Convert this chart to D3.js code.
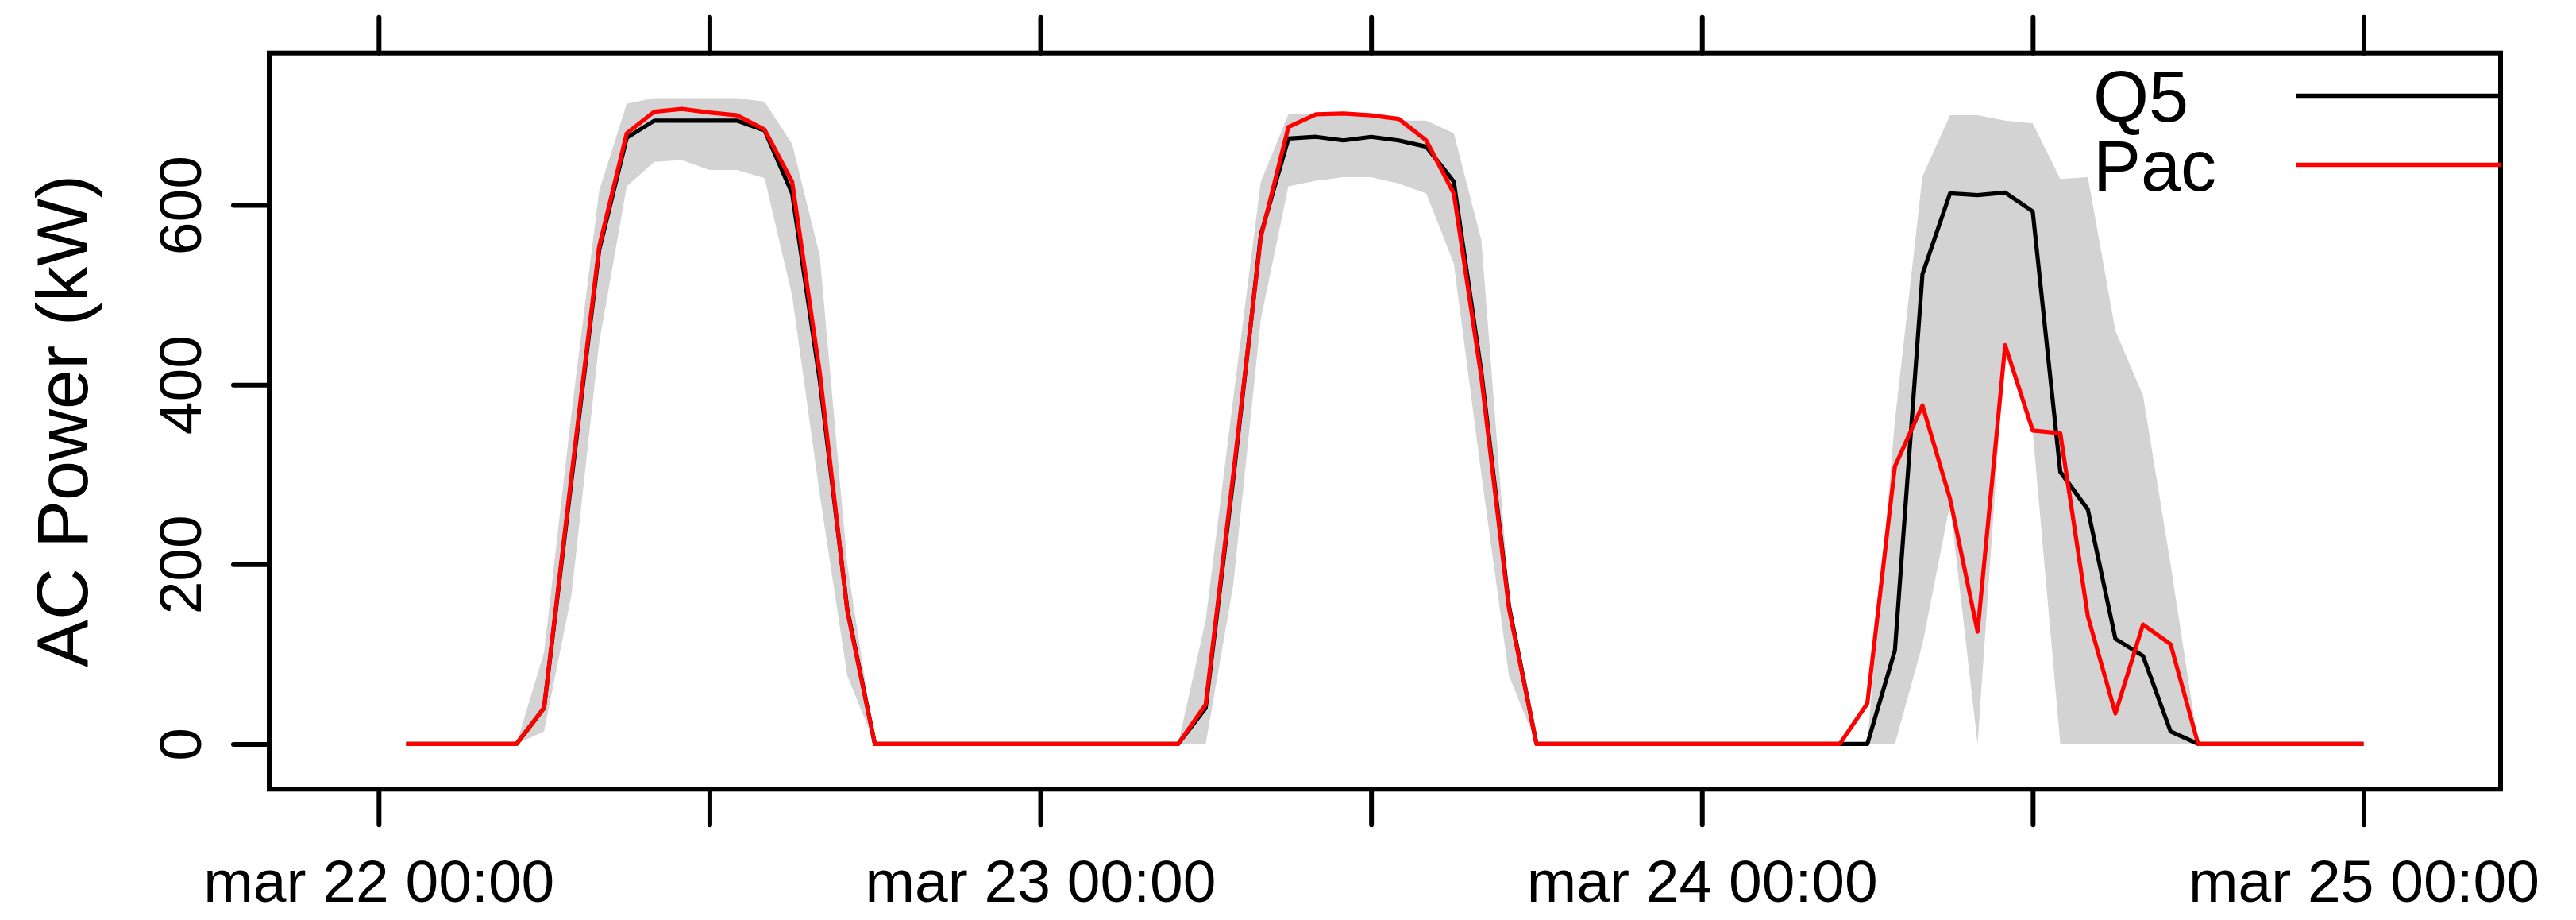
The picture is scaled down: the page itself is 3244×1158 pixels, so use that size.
<!DOCTYPE html>
<html>
<head>
<meta charset="utf-8">
<script src="https://cdn.jsdelivr.net/npm/d3@7"></script>
<style>
body { margin: 0; background: #fff; }
text { font-family: "Liberation Sans", Arial, Helvetica, sans-serif; fill: #000; }
</style>
</head>
<body>
<div id="chart"></div>
<script>
const width = 3244, height = 1158;
const margin = {top: 66.7, right: 95, bottom: 164.7, left: 339};

// hourly samples, mar 22 01:00 -> mar 25 00:00
const startTime = Date.UTC(2016, 2, 22, 1);
const endTime = Date.UTC(2016, 2, 25, 1);

const pac = [
	0, 0, 0, 0, 0, 40, 300, 554, 680, 704, 707, 703, 700, 684, 626, 414, 148, 0,
	0, 0, 0, 0, 0, 0, 0, 0, 0, 0, 0, 44, 300, 564, 687, 701, 702, 700, 696, 672,
	613, 408, 151, 0, 0, 0, 0, 0, 0, 0, 0, 0, 0, 0, 0, 45, 309, 377, 273, 125,
	444, 349, 346, 142, 34, 133, 111, 0, 0, 0, 0, 0, 0, 0
];
const q5 = [
	0, 0, 0, 0, 0, 40, 295, 550, 675, 694, 694, 694, 694, 683, 613, 405, 150, 0,
	0, 0, 0, 0, 0, 0, 0, 0, 0, 0, 0, 40, 295, 567, 674, 676, 672, 676, 672, 665,
	626, 414, 154, 0, 0, 0, 0, 0, 0, 0, 0, 0, 0, 0, 0, 0, 104, 523, 613, 611,
	614, 593, 303, 261, 117, 98, 14, 0, 0, 0, 0, 0, 0, 0
];
const bandUpper = [
	0, 0, 0, 0, 0, 102, 370, 616, 713, 719, 719, 719, 719, 715, 668, 544, 200, 0,
	0, 0, 0, 0, 0, 0, 0, 0, 0, 0, 0, 138, 385, 626, 701, 702, 701, 698, 694, 694,
	680, 561, 165, 0, 0, 0, 0, 0, 0, 0, 0, 0, 0, 0, 0, 0, 360, 632, 700, 700,
	694, 691, 629, 631, 460, 388, 200, 0, 0, 0, 0, 0, 0, 0
];
const bandLower = [
	0, 0, 0, 0, 0, 14, 167, 447, 621, 648, 650, 639, 639, 630, 499, 278, 76, 0,
	0, 0, 0, 0, 0, 0, 0, 0, 0, 0, 0, 0, 177, 473, 621, 627, 631, 631, 624, 613,
	535, 300, 76, 0, 0, 0, 0, 0, 0, 0, 0, 0, 0, 0, 0, 0, 0, 111, 267, 0,
	444, 348, 0, 0, 0, 0, 0, 0, 0, 0, 0, 0, 0, 0
];

const yTicks = [0, 200, 400, 600];
const xTickLabels = ["mar 22 00:00", "mar 23 00:00", "mar 24 00:00", "mar 25 00:00"];
const seriesNames = ["Q5", "Pac"];
const seriesColors = ["#000000", "#ff0000"];

const times = d3.utcHour.range(startTime, endTime);
const rows = times.map((t, i) => ({t: t, pac: pac[i], q5: q5[i], lo: bandLower[i], hi: bandUpper[i]}));

const svg = d3.select("#chart")
	.append("svg")
	.attr("width", width)
	.attr("height", height);

// lattice-like 7% padding on both scales
const tExt = d3.extent(times);
const tPad = (tExt[1] - tExt[0]) * 0.07;
const x = d3.scaleUtc()
	.domain([new Date(+tExt[0] - tPad), new Date(+tExt[1] + tPad)])
	.range([margin.left, width - margin.right]);

const yMax = d3.max([d3.max(pac), d3.max(q5), d3.max(bandUpper)]);
const yPad = yMax * 0.07;
const y = d3.scaleLinear()
	.domain([-yPad, yMax + yPad])
	.range([height - margin.bottom, margin.top]);

// band
const area = d3.area()
	.x(d => x(d.t))
	.y0(d => y(d.lo))
	.y1(d => y(d.hi));

svg.append("path")
	.datum(rows)
	.attr("d", area)
	.attr("fill", "#d3d3d3");

// lines
const lineQ5 = d3.line().x(d => x(d.t)).y(d => y(d.q5));
const linePac = d3.line().x(d => x(d.t)).y(d => y(d.pac));

svg.append("path")
	.datum(rows)
	.attr("d", lineQ5)
	.attr("fill", "none")
	.attr("stroke", seriesColors[0])
	.attr("stroke-width", 5.2)
	.attr("stroke-linejoin", "round");

svg.append("path")
	.datum(rows)
	.attr("d", linePac)
	.attr("fill", "none")
	.attr("stroke", seriesColors[1])
	.attr("stroke-width", 5.2)
	.attr("stroke-linejoin", "round");

// axes
const xTicks = d3.utcHour.every(12).range(Date.UTC(2016, 2, 22, 0), Date.UTC(2016, 2, 25, 1));
let dayIdx = 0;
const fmtX = d => d.getUTCHours() === 0 ? xTickLabels[dayIdx++] : "";

svg.append("g")
	.attr("transform", `translate(0,${height - margin.bottom})`)
	.call(d3.axisBottom(x).tickValues(xTicks).tickFormat(fmtX).tickSize(45).tickPadding(43));

svg.append("g")
	.attr("class", "top-axis")
	.attr("transform", `translate(0,${margin.top})`)
	.call(d3.axisTop(x).tickValues(xTicks).tickFormat("").tickSize(45));

const yAxis = svg.append("g")
	.attr("transform", `translate(${margin.left},0)`)
	.call(d3.axisLeft(y).tickValues(yTicks).tickSize(45));

yAxis.selectAll("text")
	.attr("x", 0)
	.attr("y", -86)
	.attr("dy", null)
	.attr("transform", "rotate(-90)")
	.attr("text-anchor", "middle");

svg.selectAll(".domain").remove();
svg.selectAll(".tick text").filter(function() { return this.textContent === ""; }).remove();
svg.selectAll(".tick line")
	.attr("stroke", "#000")
	.attr("stroke-width", 6)
	.attr("stroke-linecap", "round");
svg.selectAll(".tick text")
	.attr("fill", "#000")
	.attr("font-size", 75)
	.attr("font-family", "'Liberation Sans', Arial, sans-serif");

// box
svg.append("rect")
	.attr("x", margin.left)
	.attr("y", margin.top)
	.attr("width", width - margin.left - margin.right)
	.attr("height", height - margin.top - margin.bottom)
	.attr("fill", "none")
	.attr("stroke", "#000")
	.attr("stroke-width", 6);

// y label
svg.append("text")
	.attr("transform", `translate(110,${(margin.top + height - margin.bottom) / 2}) rotate(-90)`)
	.attr("text-anchor", "middle")
	.attr("font-size", 90)
	.text("AC Power (kW)");

// legend
const legend = svg.append("g");
seriesNames.forEach((name, i) => {
	const baseY = 153 + i * 87;
	legend.append("text")
		.attr("x", 2636)
		.attr("y", baseY)
		.attr("font-size", 90)
		.text(name);
	legend.append("line")
		.attr("x1", 2892)
		.attr("x2", width - margin.right)
		.attr("y1", baseY - 32.5)
		.attr("y2", baseY - 32.5)
		.attr("stroke", seriesColors[i])
		.attr("stroke-width", 5.5);
});
</script>
</body>
</html>
